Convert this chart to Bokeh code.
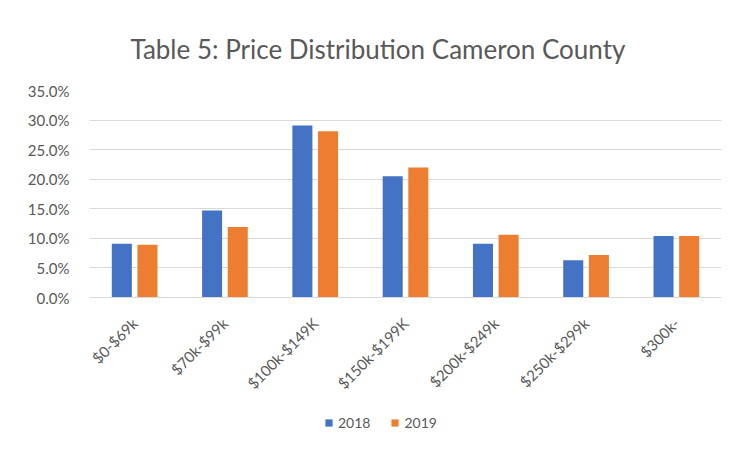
from bokeh.plotting import figure
from bokeh.models import (ColumnDataSource, FactorRange, Range1d, FixedTicker,
                          NumeralTickFormatter, Legend, LegendItem, Title)
from bokeh.transform import dodge
from bokeh.embed import file_html
from bokeh.resources import INLINE
import math

categories = ["$0-$69k", "$70k-$99k", "$100k-$149K", "$150k-$199K",
              "$200k-$249k", "$250k-$299k", "$300k-"]
share_2018 = [0.091, 0.147, 0.291, 0.205, 0.091, 0.063, 0.104]
share_2019 = [0.089, 0.119, 0.281, 0.220, 0.106, 0.072, 0.104]
y_ticks = [0.0, 0.05, 0.10, 0.15, 0.20, 0.25, 0.30, 0.35]
series_names = ["2018", "2019"]
title_text = "Table 5: Price Distribution Cameron County"

FONT = "Lato"
TXT = "#595959"
BLUE = "#4472C4"
ORANGE = "#ED7D31"
GRID = "#D9D9D9"

src = ColumnDataSource(dict(cat=categories, a=share_2018, b=share_2019))

# frame extends below the zero line to hold the category labels and legend
p = figure(width=733, height=445, output_backend="svg", toolbar_location=None,
           x_range=FactorRange(*categories, range_padding=0),
           y_range=Range1d(-0.2367, 0.35),
           min_border_left=89, min_border_right=12,
           min_border_top=90, min_border_bottom=8)

p.border_fill_color = "white"
p.background_fill_color = "white"
p.outline_line_color = None

r1 = p.vbar(x=dodge("cat", -0.142, range=p.x_range), top="a", width=0.222,
            source=src, fill_color=BLUE, line_color=None)
r2 = p.vbar(x=dodge("cat", 0.142, range=p.x_range), top="b", width=0.222,
            source=src, fill_color=ORANGE, line_color=None)

# title
p.title = Title(text=title_text, align="left", offset=41,
                text_font=FONT, text_font_size="26px", text_font_style="normal",
                text_color=TXT, standoff=52)

# y axis
p.yaxis.ticker = FixedTicker(ticks=y_ticks)
p.yaxis.formatter = NumeralTickFormatter(format="0.0%")
p.yaxis.axis_line_color = None
p.yaxis.major_tick_line_color = None
p.yaxis.minor_tick_line_color = None
p.yaxis.major_label_standoff = 14
p.yaxis.major_label_text_font = FONT
p.yaxis.major_label_text_font_size = "15px"
p.yaxis.major_label_text_color = TXT

p.ygrid.ticker = FixedTicker(ticks=y_ticks)
p.ygrid.grid_line_color = GRID
p.ygrid.grid_line_width = 1
p.xgrid.grid_line_color = None

# x axis, drawn at the zero line
p.xaxis.fixed_location = 0
p.xaxis.axis_line_color = GRID
p.xaxis.major_tick_line_color = None
p.xaxis.minor_tick_line_color = None
p.xaxis.major_label_orientation = math.pi / 4
p.xaxis.major_label_standoff = 17
p.xaxis.major_label_text_font = FONT
p.xaxis.major_label_text_font_size = "15px"
p.xaxis.major_label_text_color = TXT

legend = Legend(items=[LegendItem(label=series_names[0], renderers=[r1]),
                       LegendItem(label=series_names[1], renderers=[r2])],
                orientation="horizontal", location=(235, 6),
                glyph_width=9, glyph_height=9, label_standoff=5, spacing=20,
                padding=0, margin=0, border_line_color=None,
                background_fill_alpha=0,
                label_text_font=FONT, label_text_font_size="14px",
                label_text_color=TXT)
p.add_layout(legend, "center")

open("out.html", "w").write(file_html(p, INLINE))
